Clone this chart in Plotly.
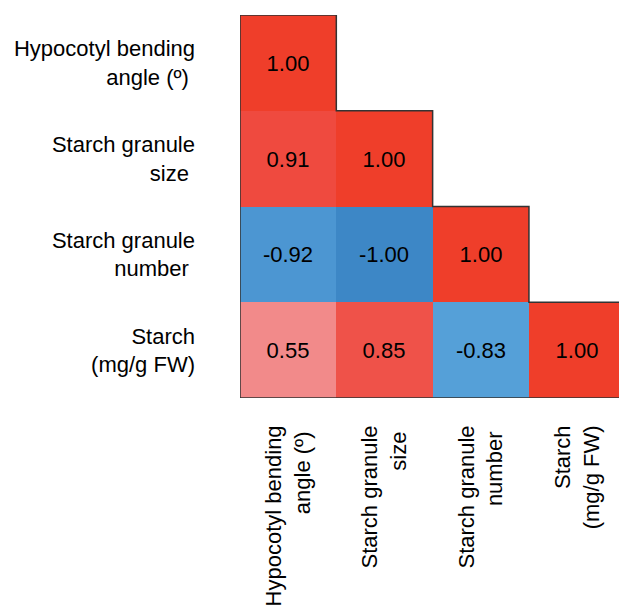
import plotly.graph_objects as go

# Variables of the correlation matrix (rows top-to-bottom, columns left-to-right)
variables = [
    "Hypocotyl bending<br>angle (º)\u00a0",
    "Starch granule<br>size\u00a0",
    "Starch granule<br>number\u00a0",
    "Starch<br>(mg/g FW)",
]

# Lower-triangular correlation values, one list per row
row_hypocotyl = [1.00, None, None, None]
row_size = [0.91, 1.00, None, None]
row_number = [-0.92, -1.00, 1.00, None]
row_starch = [0.55, 0.85, -0.83, 1.00]

z = [row_hypocotyl, row_size, row_number, row_starch]
n = len(variables)
idx = list(range(n))

colorscale = [
    [0.000, "#3D87C6"],
    [0.040, "#4C96D2"],
    [0.085, "#55A0D8"],
    [0.500, "#FFFFFF"],
    [0.775, "#F28A8A"],
    [0.925, "#EF5249"],
    [0.955, "#EF4A3F"],
    [1.000, "#EF3E2A"],
]

font_family = "Arial, Liberation Sans, sans-serif"

fig = go.Figure(
    go.Heatmap(
        z=z,
        x=idx,
        y=idx,
        zmin=-1,
        zmax=1,
        colorscale=colorscale,
        showscale=False,
        texttemplate="%{z:.2f}",
        textfont=dict(family=font_family, size=22, color="black"),
        hoverinfo="skip",
        xgap=0,
        ygap=0,
    )
)

# Staircase outline around the lower triangle
path = f"M {-0.5} {-0.5}"
for i in range(n):
    path += f" L {i + 0.5} {i - 0.5} L {i + 0.5} {i + 0.5}"
path += f" L {n - 0.5} {n - 0.5} L {-0.5} {n - 0.5} Z"
fig.add_shape(
    type="path",
    path=path,
    xref="x",
    yref="y",
    line=dict(color="#333333", width=1.5),
    fillcolor="rgba(0,0,0,0)",
)

fig.update_layout(
    width=619,
    height=607,
    margin=dict(l=240, r=0, t=15, b=209),
    paper_bgcolor="white",
    plot_bgcolor="white",
    font=dict(family=font_family, size=22, color="black"),
    xaxis=dict(
        range=[-0.5, 3.435],
        tickvals=idx,
        ticktext=variables,
        tickangle=-90,
        showgrid=False,
        zeroline=False,
        showline=False,
        ticks="",
        ticklabelstandoff=22,
        tickfont=dict(size=22),
    ),
    yaxis=dict(
        range=[n - 0.5, -0.5],
        tickvals=idx,
        ticktext=variables,
        showgrid=False,
        zeroline=False,
        showline=False,
        ticks="",
        ticklabelstandoff=44,
        tickfont=dict(size=22),
    ),
)

fig.write_html("out.html")
